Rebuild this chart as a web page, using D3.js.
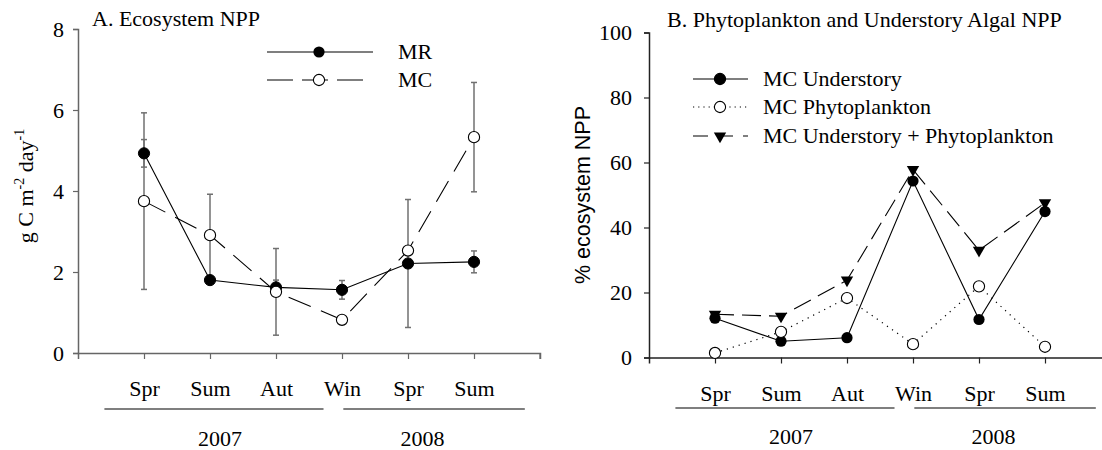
<!DOCTYPE html>
<html>
<head>
<meta charset="utf-8">
<script src="https://cdn.jsdelivr.net/npm/d3@7"></script>
<style>
  html, body { margin: 0; padding: 0; background: #fff; }
  svg { display: block; }
  text { font-family: "Liberation Serif", "Times New Roman", serif; fill: #000; }
  text.sans { font-family: "Liberation Sans", Arial, sans-serif; }
</style>
</head>
<body>
<svg id="chart" width="1102" height="450"></svg>
<script>
// Seasons sampled (2007 spring through 2008 summer)
const seasons = ["Spr", "Sum", "Aut", "Win", "Spr", "Sum"];
const years = ["2007", "2008"];

// Panel A: ecosystem NPP (g C m-2 day-1), mean and error
const mrNPP = [4.93, 1.80, 1.62, 1.56, 2.21, 2.25];
const mrErr = [0.34, 0.05, 0.18, 0.23, 1.58, 0.27];
const mcNPP = [3.75, 2.91, 1.51, 0.82, 2.53, 5.33];
const mcErr = [2.18, 1.01, 1.07, 0.05, 0.10, 1.35];
const yTicksA = [0, 2, 4, 6, 8];

// Panel B: share of ecosystem NPP (%)
const understory = [12.1, 5.0, 6.1, 54.3, 11.7, 44.9];
const phyto = [1.4, 7.9, 18.3, 4.1, 21.9, 3.3];
const understoryPlusPhyto = [13.3, 12.7, 23.8, 57.8, 33.0, 47.6];
const yTicksB = [0, 20, 40, 60, 80, 100];

const FS = 22;
const svg = d3.select("#chart");

// year brackets under the season axis: [from, to, label position] in season-index units
const yearSpans = [[-0.6, 2.72, 1.15], [3.02, 5.77, 4.22]];

function xAxisBlock(g, x, y0, axisColor, yearY, labelY) {
  const axis = d3.axisBottom(x)
    .tickValues(d3.range(6))
    .tickFormat(i => seasons[i])
    .tickSizeOuter(0)
    .tickSize(6)
    .tickPadding(0);
  const ax = g.append("g").attr("transform", `translate(0,${y0})`).call(axis);
  ax.select(".domain").attr("stroke", axisColor).attr("stroke-width", 1.5);
  ax.selectAll(".tick line").attr("stroke", axisColor).attr("stroke-width", 1.2);
  ax.selectAll(".tick text")
    .attr("font-size", FS).attr("fill", "#000")
    .attr("dy", null).attr("y", 43);
  yearSpans.forEach((s, k) => {
    g.append("line")
      .attr("x1", x(s[0])).attr("x2", x(s[1]))
      .attr("y1", yearY).attr("y2", yearY)
      .attr("stroke", "#000").attr("stroke-width", 1.2);
    g.append("text")
      .attr("x", x(s[2])).attr("y", labelY)
      .attr("text-anchor", "middle").attr("font-size", FS)
      .text(years[k]);
  });
}

function yAxisBlock(g, y, x0, ticks, axisColor, tickLen, pad) {
  const axis = d3.axisLeft(y).tickValues(ticks).tickSizeOuter(0)
    .tickSize(tickLen).tickPadding(pad);
  const ax = g.append("g").attr("transform", `translate(${x0},0)`).call(axis);
  ax.select(".domain").attr("stroke", axisColor).attr("stroke-width", 1.5);
  ax.selectAll(".tick line").attr("stroke", axisColor).attr("stroke-width", 1.2);
  ax.selectAll(".tick text")
    .attr("font-size", FS).attr("fill", "#000").attr("dy", "0.34em");
  return ax;
}

const tri = d3.symbol().type(d3.symbolTriangle).size(66);

// ---------- Panel A ----------
{
  const g = svg.append("g");
  const x = d3.scaleLinear().domain([-1, 6]).range([78, 540]);
  const y = d3.scaleLinear().domain([0, 8]).range([353, 29]);

  yAxisBlock(g, y, 78, yTicksA, "#666", 5, 9);
  // x axis: domain line spans the whole panel, with a closing tick at the right end
  const axis = g.append("g");
  xAxisBlock(axis, x, 353, "#666", 409, 446);
  g.append("line").attr("x1", x(6)).attr("x2", x(6)).attr("y1", 353).attr("y2", 359)
    .attr("stroke", "#666").attr("stroke-width", 1.2);

  g.append("text").attr("x", 92).attr("y", 26).attr("font-size", FS).text("A. Ecosystem NPP");

  // y label with superscripts
  const yl = g.append("text")
    .attr("transform", `translate(33,186) rotate(-90)`)
    .attr("text-anchor", "middle").attr("font-size", FS);
  yl.append("tspan").text("g C m");
  yl.append("tspan").attr("font-size", 14).attr("dy", -9).text("-2");
  yl.append("tspan").attr("dy", 9).text(" day");
  yl.append("tspan").attr("font-size", 14).attr("dy", -9).text("-1");

  // error bars
  function errBars(vals, errs) {
    const eg = g.append("g").attr("stroke", "#707070").attr("stroke-width", 1.5);
    vals.forEach((v, i) => {
      const cx = x(i), y1 = y(v - errs[i]), y2 = y(v + errs[i]);
      eg.append("line").attr("x1", cx).attr("x2", cx).attr("y1", y1).attr("y2", y2);
      eg.append("line").attr("x1", cx - 3).attr("x2", cx + 3).attr("y1", y1).attr("y2", y1);
      eg.append("line").attr("x1", cx - 3).attr("x2", cx + 3).attr("y1", y2).attr("y2", y2);
    });
  }
  errBars(mrNPP, mrErr);
  errBars(mcNPP, mcErr);

  const line = d3.line().x((d, i) => x(i)).y(d => y(d));
  g.append("path").datum(mrNPP).attr("d", line)
    .attr("fill", "none").attr("stroke", "#000").attr("stroke-width", 1.1);
  g.append("path").datum(mcNPP).attr("d", line)
    .attr("fill", "none").attr("stroke", "#000").attr("stroke-width", 1.1)
    .attr("stroke-dasharray", "24,11");

  g.selectAll(".mr").data(mrNPP).join("circle")
    .attr("cx", (d, i) => x(i)).attr("cy", d => y(d)).attr("r", 5.6)
    .attr("fill", "#000").attr("stroke", "#000");
  g.selectAll(".mc").data(mcNPP).join("circle")
    .attr("cx", (d, i) => x(i)).attr("cy", d => y(d)).attr("r", 5.6)
    .attr("fill", "#fff").attr("stroke", "#000").attr("stroke-width", 1.1);

  // legend
  const lg = g.append("g");
  lg.append("line").attr("x1", 267).attr("x2", 373).attr("y1", 52).attr("y2", 52)
    .attr("stroke", "#555").attr("stroke-width", 1.5);
  lg.append("circle").attr("cx", 319).attr("cy", 52).attr("r", 5.6).attr("fill", "#000");
  lg.append("line").attr("x1", 267).attr("x2", 364).attr("y1", 80).attr("y2", 80)
    .attr("stroke", "#000").attr("stroke-width", 1.1).attr("stroke-dasharray", "26,9");
  lg.append("circle").attr("cx", 319).attr("cy", 80).attr("r", 5.6)
    .attr("fill", "#fff").attr("stroke", "#000").attr("stroke-width", 1.1);
  lg.append("text").attr("x", 398).attr("y", 59).attr("font-size", FS).text("MR");
  lg.append("text").attr("x", 398).attr("y", 87).attr("font-size", FS).text("MC");
}

// ---------- Panel B ----------
{
  const g = svg.append("g");
  const x = d3.scaleLinear().domain([-1, 6]).range([649, 1111]);
  const y = d3.scaleLinear().domain([0, 100]).range([357.5, 32.5]);

  yAxisBlock(g, y, 649, yTicksB, "#222", 5, 12);
  xAxisBlock(g, x, 357.5, "#222", 408, 444);

  g.append("text").attr("x", 667).attr("y", 27).attr("font-size", FS)
    .text("B. Phytoplankton and Understory Algal NPP");

  g.append("text").attr("class", "sans")
    .attr("transform", `translate(590,195) rotate(-90)`)
    .attr("text-anchor", "middle")
    .attr("font-size", 21.5).text("% ecosystem NPP");

  const line = d3.line().x((d, i) => x(i)).y(d => y(d));
  g.append("path").datum(understoryPlusPhyto).attr("d", line)
    .attr("fill", "none").attr("stroke", "#000").attr("stroke-width", 1.1)
    .attr("stroke-dasharray", "19,8");
  g.append("path").datum(phyto).attr("d", line)
    .attr("fill", "none").attr("stroke", "#000").attr("stroke-width", 1.2)
    .attr("stroke-dasharray", "1.2,5");
  g.append("path").datum(understory).attr("d", line)
    .attr("fill", "none").attr("stroke", "#000").attr("stroke-width", 1.1);

  g.selectAll(".tri").data(understoryPlusPhyto).join("path")
    .attr("d", tri)
    .attr("transform", (d, i) => `translate(${x(i)},${y(d)}) rotate(180)`)
    .attr("fill", "#000");
  g.selectAll(".us").data(understory).join("circle")
    .attr("cx", (d, i) => x(i)).attr("cy", d => y(d)).attr("r", 5.6).attr("fill", "#000");
  g.selectAll(".ph").data(phyto).join("circle")
    .attr("cx", (d, i) => x(i)).attr("cy", d => y(d)).attr("r", 5.6)
    .attr("fill", "#fff").attr("stroke", "#000").attr("stroke-width", 1.1);

  // legend
  const legendItems = [
    { label: "MC Understory", dash: null, mark: "fill" },
    { label: "MC Phytoplankton", dash: "1.2,4", mark: "open" },
    { label: "MC Understory + Phytoplankton", dash: "15,10", mark: "tri" }
  ];
  const rowY = [79, 107, 136];
  legendItems.forEach((it, k) => {
    const ly = rowY[k];
    g.append("line").attr("x1", 693).attr("x2", 748).attr("y1", ly).attr("y2", ly)
      .attr("stroke", "#000").attr("stroke-width", 1.1)
      .attr("stroke-dasharray", it.dash);
    if (it.mark === "tri") {
      g.append("path").attr("d", tri)
        .attr("transform", `translate(720,${ly}) rotate(180)`).attr("fill", "#000");
    } else {
      g.append("circle").attr("cx", 720).attr("cy", ly).attr("r", 5.6)
        .attr("fill", it.mark === "fill" ? "#000" : "#fff")
        .attr("stroke", "#000").attr("stroke-width", 1.1);
    }
    g.append("text").attr("x", 763).attr("y", ly + 7).attr("font-size", FS).text(it.label);
  });
}
</script>
</body>
</html>
